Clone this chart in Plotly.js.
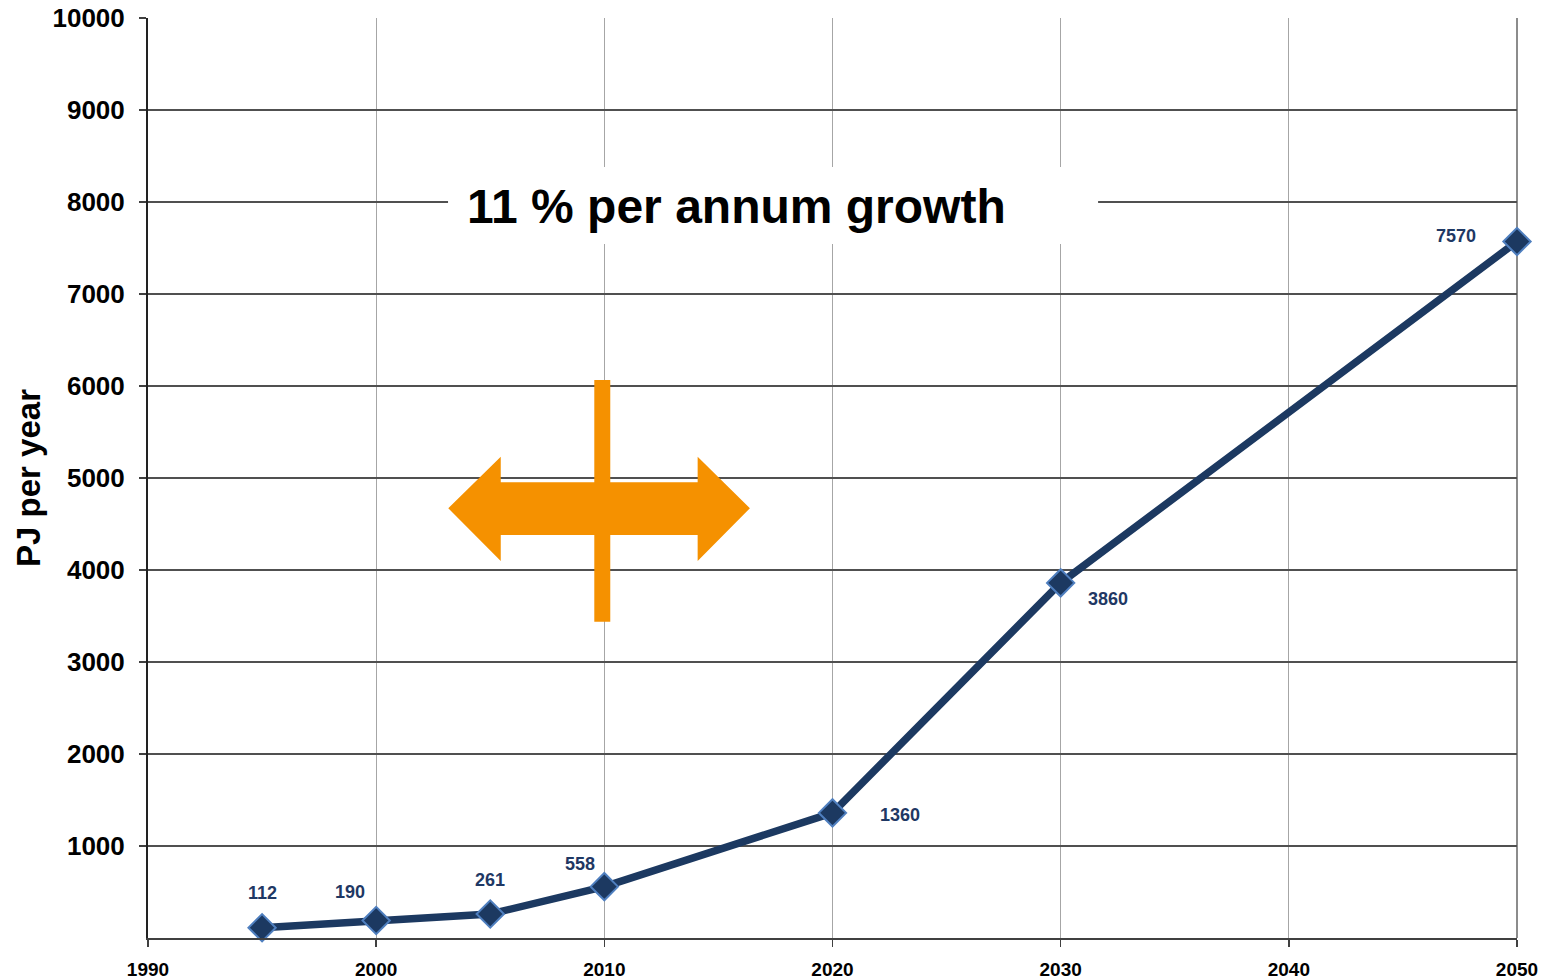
<!DOCTYPE html>
<html>
<head>
<meta charset="utf-8">
<script src="https://cdn.plot.ly/plotly-3.0.1.min.js"></script>
<style>
  html, body { margin: 0; padding: 0; background: #ffffff; }
  #chart { width: 1550px; height: 980px; }
</style>
</head>
<body>
<div id="chart"></div>
<script>
// Energy use, PJ per year
const years = [1995, 2000, 2005, 2010, 2020, 2030, 2050];
const pjPerYear = [112, 190, 261, 558, 1360, 3860, 7570];

// Axis ticks
const xTicks = [1990, 2000, 2010, 2020, 2030, 2040, 2050];
const yTicks = [1000, 2000, 3000, 4000, 5000, 6000, 7000, 8000, 9000, 10000];

// Headline
const headline = '11 % per annum growth';

// Pixel offsets of each value label from its point
const labelDx = [0, -26, 0, -24, 67, 47, -61];
const labelDy = [35, 29, 34, 23, -2, -16, 6];

const navy = '#1c3961';
const orange = '#f59100';
const narrow = 'Liberation Sans Narrow, Arial Narrow, Liberation Sans, Arial, sans-serif';
const sans = 'Liberation Sans, Arial, sans-serif';

const trace = {
  x: years,
  y: pjPerYear,
  type: 'scatter',
  mode: 'lines+markers',
  cliponaxis: false,
  line: { color: navy, width: 7.5 },
  marker: {
    symbol: 'diamond',
    size: 21,
    color: navy,
    line: { color: '#4f7fbf', width: 2 }
  },
  hoverinfo: 'x+y',
  showlegend: false
};

const valueLabels = years.map((yr, i) => ({
  x: yr,
  y: pjPerYear[i],
  xref: 'x',
  yref: 'y',
  text: String(pjPerYear[i]),
  showarrow: false,
  xshift: labelDx[i],
  yshift: labelDy[i],
  font: { family: narrow, size: 18, color: '#1f3864', weight: 'bold' }
}));

// Double-headed horizontal arrow with a vertical bar through it
const arrowPath = [
  'M 2003.16,4671',
  'L 2005.46,5232',
  'L 2005.46,4953',
  'L 2014.09,4953',
  'L 2014.09,5232',
  'L 2016.38,4671',
  'L 2014.09,4098',
  'L 2014.09,4380',
  'L 2005.46,4380',
  'L 2005.46,4098',
  'Z'
].join(' ');

const shapes = [
  // white panel behind the headline
  {
    type: 'rect', xref: 'x', yref: 'y',
    x0: 2003.15, x1: 2031.64, y0: 7543, y1: 8380,
    fillcolor: '#ffffff', line: { width: 0 }, layer: 'above'
  },
  {
    type: 'rect', xref: 'x', yref: 'y',
    x0: 2009.56, x1: 2010.26, y0: 3438, y1: 6065,
    fillcolor: orange, line: { width: 0 }, layer: 'above'
  },
  {
    type: 'path', xref: 'x', yref: 'y',
    path: arrowPath,
    fillcolor: orange, line: { width: 0 }, layer: 'above'
  },
  // right frame edge
  {
    type: 'line', xref: 'paper', yref: 'paper',
    x0: 1, x1: 1, y0: 0, y1: 1,
    line: { color: '#8c8c8c', width: 2 }, layer: 'below'
  }
];

const annotations = valueLabels.concat([
  {
    x: 2015.79, y: 7946, xref: 'x', yref: 'y',
    text: headline, showarrow: false,
    xanchor: 'center', yanchor: 'middle',
    font: { family: sans, size: 48, color: '#000000', weight: 'bold' }
  }
]);

const layout = {
  width: 1550,
  height: 980,
  margin: { l: 148, r: 33, t: 18, b: 42 },
  paper_bgcolor: '#ffffff',
  plot_bgcolor: '#ffffff',
  showlegend: false,
  xaxis: {
    range: [1990, 2050],
    tickvals: xTicks,
    ticktext: xTicks.map(String),
    showgrid: true,
    gridcolor: '#a6a6a6',
    gridwidth: 1,
    zeroline: false,
    showline: true,
    linecolor: '#404040',
    linewidth: 2,
    ticks: 'outside',
    ticklen: 7,
    tickwidth: 1.5,
    tickcolor: '#404040',
    ticklabelstandoff: 6,
    tickfont: { family: narrow, size: 19, color: '#000000', weight: 'bold' },
    fixedrange: true
  },
  yaxis: {
    range: [0, 10000],
    tickvals: yTicks,
    ticktext: yTicks.map(String),
    showgrid: true,
    gridcolor: '#505050',
    gridwidth: 1.5,
    zeroline: false,
    showline: true,
    linecolor: '#222222',
    linewidth: 2,
    ticks: 'outside',
    ticklen: 7,
    tickwidth: 1.5,
    tickcolor: '#404040',
    ticklabelstandoff: 9,
    tickfont: { family: sans, size: 26, color: '#000000', weight: 'bold' },
    title: {
      text: 'PJ per year',
      standoff: 2,
      font: { family: sans, size: 33, color: '#000000', weight: 'bold' }
    },
    fixedrange: true
  },
  shapes: shapes,
  annotations: annotations
};

Plotly.newPlot('chart', [trace], layout, { displayModeBar: false, staticPlot: true });
</script>
</body>
</html>
